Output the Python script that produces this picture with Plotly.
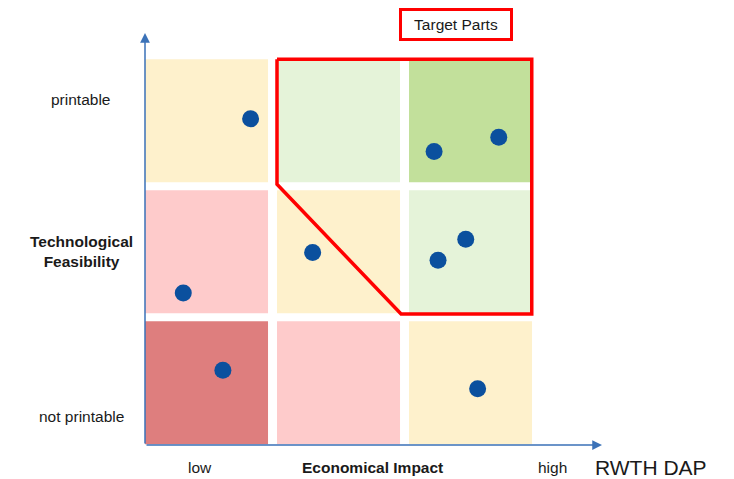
import plotly.graph_objects as go

# ---- data ----
part_x = [0.80, 2.19, 2.68, 0.29, 1.27, 2.43, 2.22, 0.59, 2.52]
part_y = [2.49, 2.24, 2.35, 1.16, 1.47, 1.57, 1.41, 0.57, 0.43]

# cell colour grid: rows bottom->top, cols left->right
cell_colors = [
    ["#DE7E7E", "#FECBCB", "#FEF1CC"],
    ["#FECBCB", "#FEF1CC", "#E5F3D9"],
    ["#FEF1CC", "#E5F3D9", "#C2E09B"],
]
y_labels = ["not printable", "Technological<br>Feasibility", "printable"]
x_labels = ["low", "Economical Impact", "high"]
target_x = [1.0, 2.93, 2.93, 1.94, 1.0, 1.0]
target_y = [2.945, 2.945, 1.0, 1.0, 1.99, 2.945]

PX = 132.0  # px per unit x
PY = 131.0  # px per unit y
x0px, y0px = 145, 445
W, H = 734, 479

def dx(px):
    return (px - x0px) / PX

def dy(py):
    return (y0px - py) / PY

fig = go.Figure()

shapes = []
CW, CH = 0.932, 0.945
for r in range(3):
    for c in range(3):
        shapes.append(dict(type="rect", xref="x", yref="y",
                           x0=c, x1=c + CW, y0=r + 0.005, y1=r + CH,
                           fillcolor=cell_colors[r][c], line=dict(width=0),
                           layer="below"))
fig.update_layout(shapes=shapes)

# target region outline
fig.add_trace(go.Scatter(x=target_x, y=target_y, mode="lines",
                         line=dict(color="#FF0000", width=3.5),
                         hoverinfo="skip", showlegend=False))

# parts
fig.add_trace(go.Scatter(x=part_x, y=part_y, mode="markers",
                         marker=dict(size=17, color="#0B509E"),
                         showlegend=False))

axis_col = "#3B72B8"
font = "Arial, Liberation Sans, sans-serif"
tc = "#1a1a1a"
ann = []
# axis arrows
ann.append(dict(x=dx(602), y=0, ax=0, ay=0, xref="x", yref="y",
                axref="x", ayref="y", showarrow=True, arrowhead=2,
                arrowsize=1.3, arrowwidth=1.5, arrowcolor=axis_col, text=""))
ann.append(dict(x=0, y=dy(33), ax=0, ay=0, xref="x", yref="y",
                axref="x", ayref="y", showarrow=True, arrowhead=2,
                arrowsize=1.3, arrowwidth=1.5, arrowcolor=axis_col, text=""))

# y labels
ann.append(dict(x=dx(80), y=dy(99), text=y_labels[2], showarrow=False,
                font=dict(family=font, size=15.5, color=tc)))
ann.append(dict(x=dx(81), y=dy(251), text="<b>" + y_labels[1] + "</b>",
                showarrow=False, align="center",
                font=dict(family=font, size=15.5, color=tc)))
ann.append(dict(x=dx(81), y=dy(416), text=y_labels[0], showarrow=False,
                font=dict(family=font, size=15.5, color=tc)))
# x labels
ann.append(dict(x=dx(200), y=dy(467), text=x_labels[0], showarrow=False,
                font=dict(family=font, size=15.5, color=tc)))
ann.append(dict(x=dx(372), y=dy(467), text="<b>" + x_labels[1] + "</b>",
                showarrow=False, font=dict(family=font, size=15.5, color=tc)))
ann.append(dict(x=dx(552), y=dy(467), text=x_labels[2], showarrow=False,
                font=dict(family=font, size=15.5, color=tc)))
ann.append(dict(x=dx(593), y=dy(467), text="RWTH DAP", showarrow=False,
                xanchor="left",
                font=dict(family=font, size=21, color=tc)))
# target parts box
ann.append(dict(x=dx(456), y=dy(24.5), text="Target Parts", showarrow=False,
                width=106, height=25, bordercolor="#FF0000", borderwidth=3,
                bgcolor="white",
                font=dict(family=font, size=15.5, color=tc)))
fig.update_layout(annotations=ann)

fig.update_layout(
    width=W, height=H, autosize=False,
    margin=dict(l=0, r=0, t=0, b=0),
    paper_bgcolor="white", plot_bgcolor="white",
    xaxis=dict(range=[dx(0), dx(W)], visible=False, fixedrange=True),
    yaxis=dict(range=[dy(H), dy(0)], visible=False, fixedrange=True),
)

fig.write_html("out.html",
               config={"displayModeBar": False},
               post_script="document.body.style.margin='0';"
                           "document.body.style.overflow='hidden';")
